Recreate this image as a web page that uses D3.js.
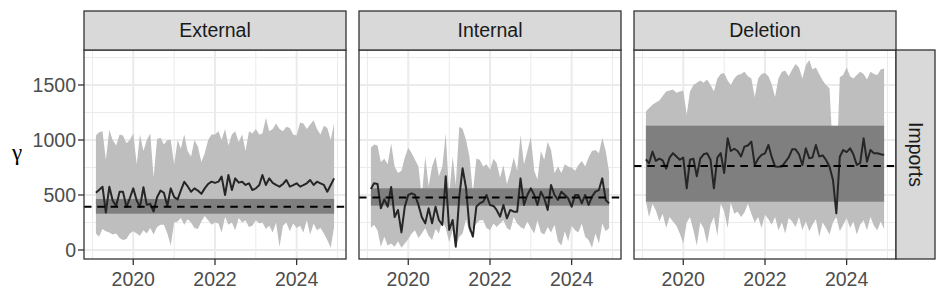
<!DOCTYPE html>
<html>
<head>
<meta charset="utf-8">
<script src="https://cdn.jsdelivr.net/npm/d3@7"></script>
<style>
  body { margin: 0; background: #fff; }
  svg { display: block; }
  text { font-family: "Liberation Sans", Arial, Helvetica, sans-serif; }
</style>
</head>
<body>
<div id="chart"></div>
<script>
// facets and axis setup
const facets = ['External', 'Internal', 'Deletion'];
const rowLabel = 'Imports';
const months = d3.timeMonth.range(new Date(2019, 1, 1), new Date(2025, 0, 1)); // Feb 2019 .. Dec 2024
const xTickYears = [2020, 2022, 2024];
const xMinorYears = [2019, 2021, 2023, 2025];
const yTicks = [0, 500, 1000, 1500];
const yMinor = [250, 750, 1250, 1750];
const yLimits = [-82, 1818];

// monthly series, one row per year (2019 starts in Feb)
const externalMid = [
	520, 545, 575, 340, 575, 450, 400, 530, 530, 390, 470,
	560, 450, 390, 570, 410, 420, 350, 480, 540, 520, 400, 560,
	480, 460, 540, 620, 580, 530, 560, 540, 510, 560, 600, 621,
	610, 621, 667, 500, 682, 545, 651, 612, 621, 591, 606, 545,
	560, 591, 682, 591, 651, 610, 591, 576, 600, 636, 576, 590,
	606, 576, 590, 606, 636, 591, 621, 606, 591, 530, 591, 651
];
const externalLo = [
	150, 120, 190, 170, 160, 140, 150, 110, 90, 100, 150,
	170, 150, 130, 180, 150, 200, 140, 210, 230, 230, 150, 40,
	250, 260, 290, 230, 280, 250, 200, 190, 260, 310, 270, 230,
	250, 240, 160, 300, 230, 250, 180, 290, 250, 270, 210, 220,
	270, 240, 250, 190, 220, 160, 250, 30, 220, 250, 170, 240,
	200, 220, 160, 270, 140, 240, 180, 200, 150, 90, 20, 210
];
const externalHi = [
	1040, 1070, 1080, 820, 1090, 1000, 950, 1050, 1040, 970, 1000,
	1060, 780, 1050, 900, 1000, 1060, 660, 1010, 1020, 960, 1000, 1000,
	780, 1000, 920, 1050, 900, 850, 1000, 940, 800, 880, 1000, 1050,
	1050, 1080, 1000, 1100, 950, 1050, 1080, 980, 1050, 900, 1080, 1060,
	1100, 1050, 1060, 1200, 1080, 1100, 1150, 1100, 1080, 1120, 1110, 1050,
	1040, 1160, 1150, 1100, 1140, 1180, 1100, 1050, 1130, 1110, 1000, 1150
];
const internalMid = [
	555, 606, 600, 380, 460, 394, 573, 300, 364, 160, 394,
	500, 515, 500, 410, 300, 242, 380, 242, 394, 273, 227, 670,
	182, 273, 30, 480, 742, 561, 212, 121, 394, 424, 440, 500,
	409, 400, 364, 303, 409, 288, 364, 348, 348, 651, 409, 500,
	561, 500, 409, 530, 470, 364, 591, 500, 455, 530, 500, 470,
	394, 500, 500, 424, 500, 409, 485, 530, 545, 651, 455, 424
];
const internalLo = [
	200, 230, 180, 30, 120, 40, 60, 30, 80, 20, 60,
	100, 150, 180, 110, 150, 200, 130, 90, 190, 150, 270, 200,
	70, 180, 30, 120, 150, 280, 160, 200, 240, 270, 270, 200,
	180, 240, 210, 240, 270, 200, 180, 300, 240, 210, 190, 260,
	200, 150, 270, 160, 140, 210, 160, 230, 80, 40, 170, 80,
	220, 180, 160, 240, 120, 90, 20, 150, 60, 240, 170, 200
];
const internalHi = [
	930, 960, 950, 800, 830, 780, 970, 760, 700, 720, 840,
	930, 880, 820, 760, 480, 850, 580, 760, 850, 670, 760, 1060,
	500, 850, 590, 1120, 1100, 1000, 850, 520, 830, 820, 760, 780,
	730, 830, 790, 660, 770, 600, 700, 840, 720, 1045, 780, 900,
	1030, 720, 640, 900, 820, 985, 910, 700, 760, 700, 780, 760,
	750, 720, 770, 810, 760, 840, 900, 910, 880, 1020, 900, 710
];
const deletionMid = [
	824, 788, 894, 810, 830, 815, 740, 840, 880, 850, 820,
	840, 561, 820, 830, 670, 830, 870, 880, 820, 561, 840, 880,
	700, 1015, 900, 920, 900, 850, 940, 950, 985, 773, 830, 864,
	878, 955, 848, 760, 757, 758, 800, 842, 915, 915, 870, 773,
	924, 833, 840, 955, 850, 860, 818, 757, 636, 333, 848, 909,
	890, 924, 870, 773, 790, 1015, 803, 909, 880, 880, 870, 864
];
const deletionLo = [
	440, 300, 420, 360, 260, 330, 200, 300, 260, 220, 150,
	60, 250, 300, 180, 40, 250, 200, 60, 230, 300, 130, 420,
	350, 200, 430, 330, 350, 300, 340, 420, 330, 250, 300, 200,
	320, 280, 230, 300, 180, 250, 150, 290, 260, 210, 300, 180,
	260, 170, 230, 280, 120, 250, 200, 140, 250, 300, 170, 230,
	290, 200, 260, 140, 230, 270, 180, 300, 220, 180, 260, 190
];
const deletionHi = [
	1260, 1290, 1320, 1340, 1360, 1400, 1440, 1450, 1460, 1430, 1440,
	1450, 1230, 1440, 1500, 1520, 1540, 1520, 1550, 1500, 1440, 1560, 1600,
	1610, 1540, 1500, 1560, 1590, 1600, 1620, 1580, 1560, 1390, 1560, 1600,
	1610, 1580, 1510, 1390, 1560, 1620, 1630, 1580, 1640, 1690, 1660, 1560,
	1680, 1727, 1640, 1660, 1600, 1540, 1500, 1470, 850, 700, 1570, 1590,
	1660, 1580, 1560, 1590, 1620, 1600, 1550, 1620, 1600, 1590, 1640, 1650
];
// constant interval and reference level per facet
const bandLo = [330, 403, 439];
const bandHi = [464, 561, 1130];
const refLevel = [394, 476, 764];

const mids = [externalMid, internalMid, deletionMid];
const los = [externalLo, internalLo, deletionLo];
const his = [externalHi, internalHi, deletionHi];

const W = 947, H = 302;
const panelLeft = 84, panelW = 262, panelGap = 13;
const panelTop = 50, panelH = 209;
const stripH = 39, stripW = 39;
const fontSize = 19.5;

const svg = d3.select('#chart').append('svg')
	.attr('width', W).attr('height', H);

const y = d3.scaleLinear().domain(yLimits).range([panelTop + panelH, panelTop]);

const ext = d3.extent(months);
const span = ext[1] - ext[0];
const xDomain = [new Date(+ext[0] - span * 0.05), new Date(+ext[1] + span * 0.05)];
const yearDate = yr => new Date(yr, 0, 1);

svg.append('defs').selectAll('clipPath')
	.data(facets).enter()
	.append('clipPath').attr('id', (d, i) => 'clip' + i)
	.append('rect')
	.attr('x', (d, i) => panelLeft + i * (panelW + panelGap))
	.attr('y', panelTop).attr('width', panelW).attr('height', panelH);

facets.forEach((name, i) => {
	const x0 = panelLeft + i * (panelW + panelGap);
	const x = d3.scaleTime().domain(xDomain).range([x0, x0 + panelW]);
	const g = svg.append('g');
	const inner = g.append('g').attr('clip-path', `url(#clip${i})`);

	inner.append('rect').attr('x', x0).attr('y', panelTop)
		.attr('width', panelW).attr('height', panelH).attr('fill', '#fff');

	// grid
	inner.selectAll('.ymin').data(yMinor).enter().append('line')
		.attr('x1', x0).attr('x2', x0 + panelW)
		.attr('y1', d => y(d)).attr('y2', d => y(d))
		.attr('stroke', '#EBEBEB').attr('stroke-width', 1);
	inner.selectAll('.xmin').data(xMinorYears).enter().append('line')
		.attr('x1', d => x(yearDate(d))).attr('x2', d => x(yearDate(d)))
		.attr('y1', panelTop).attr('y2', panelTop + panelH)
		.attr('stroke', '#EBEBEB').attr('stroke-width', 1);
	inner.selectAll('.ymaj').data(yTicks).enter().append('line')
		.attr('x1', x0).attr('x2', x0 + panelW)
		.attr('y1', d => y(d)).attr('y2', d => y(d))
		.attr('stroke', '#EBEBEB').attr('stroke-width', 2);
	inner.selectAll('.xmaj').data(xTickYears).enter().append('line')
		.attr('x1', d => x(yearDate(d))).attr('x2', d => x(yearDate(d)))
		.attr('y1', panelTop).attr('y2', panelTop + panelH)
		.attr('stroke', '#EBEBEB').attr('stroke-width', 2);

	const rows = months.map((m, k) => ({ date: m, mid: mids[i][k], lo: los[i][k], hi: his[i][k] }));

	const area = d3.area().x(d => x(d.date)).y0(d => y(d.lo)).y1(d => y(d.hi));
	inner.append('path').datum(rows).attr('d', area).attr('fill', '#BEBEBE');

	inner.append('rect')
		.attr('x', x(ext[0])).attr('width', x(ext[1]) - x(ext[0]))
		.attr('y', y(bandHi[i])).attr('height', y(bandLo[i]) - y(bandHi[i]))
		.attr('fill', '#7F7F7F');

	const line = d3.line().x(d => x(d.date)).y(d => y(d.mid));
	inner.append('path').datum(rows).attr('d', line)
		.attr('fill', 'none').attr('stroke', '#262626').attr('stroke-width', 2)
		.attr('stroke-linejoin', 'round');

	inner.append('line')
		.attr('x1', x0).attr('x2', x0 + panelW)
		.attr('y1', y(refLevel[i])).attr('y2', y(refLevel[i]))
		.attr('stroke', '#000').attr('stroke-width', 2)
		.attr('stroke-dasharray', '7.5,5.8');

	// border
	g.append('rect').attr('x', x0).attr('y', panelTop)
		.attr('width', panelW).attr('height', panelH)
		.attr('fill', 'none').attr('stroke', '#333333').attr('stroke-width', 1.3);

	// top strip
	g.append('rect').attr('x', x0).attr('y', panelTop - stripH)
		.attr('width', panelW).attr('height', stripH)
		.attr('fill', '#D9D9D9').attr('stroke', '#333333').attr('stroke-width', 1.3);
	g.append('text').attr('x', x0 + panelW / 2).attr('y', panelTop - stripH / 2)
		.attr('dy', '0.35em').attr('text-anchor', 'middle')
		.attr('font-size', fontSize).attr('fill', '#1A1A1A').text(name);

	// x axis
	const xa = g.append('g');
	xa.selectAll('line').data(xTickYears).enter().append('line')
		.attr('x1', d => x(yearDate(d))).attr('x2', d => x(yearDate(d)))
		.attr('y1', panelTop + panelH).attr('y2', panelTop + panelH + 6)
		.attr('stroke', '#333333').attr('stroke-width', 1.3);
	xa.selectAll('text').data(xTickYears).enter().append('text')
		.attr('x', d => x(yearDate(d))).attr('y', 286)
		.attr('text-anchor', 'middle').attr('font-size', fontSize)
		.attr('fill', '#4D4D4D').text(d => d);

	// y axis on first panel only
	if (i === 0) {
		const ya = g.append('g');
		ya.selectAll('line').data(yTicks).enter().append('line')
			.attr('x1', x0 - 6).attr('x2', x0)
			.attr('y1', d => y(d)).attr('y2', d => y(d))
			.attr('stroke', '#333333').attr('stroke-width', 1.3);
		ya.selectAll('text').data(yTicks).enter().append('text')
			.attr('x', x0 - 8).attr('y', d => y(d)).attr('dy', '0.35em')
			.attr('text-anchor', 'end').attr('font-size', fontSize)
			.attr('fill', '#4D4D4D').text(d => d);
	}

	// right strip on last panel
	if (i === facets.length - 1) {
		const sx = x0 + panelW;
		g.append('rect').attr('x', sx).attr('y', panelTop)
			.attr('width', stripW).attr('height', panelH)
			.attr('fill', '#D9D9D9').attr('stroke', '#333333').attr('stroke-width', 1.3);
		g.append('text')
			.attr('transform', `translate(${sx + stripW / 2},${panelTop + panelH / 2}) rotate(90)`)
			.attr('dy', '0.35em').attr('text-anchor', 'middle')
			.attr('font-size', fontSize).attr('fill', '#1A1A1A').text(rowLabel);
	}
});

// axis title: greek gamma, upright
svg.append('text').attr('x', 17).attr('y', 152).attr('dy', '0.35em')
	.attr('text-anchor', 'middle').attr('font-size', 23).attr('fill', '#000')
	.style('font-family', '"Liberation Serif", "DejaVu Serif", serif')
	.text('γ');
</script>
</body>
</html>
